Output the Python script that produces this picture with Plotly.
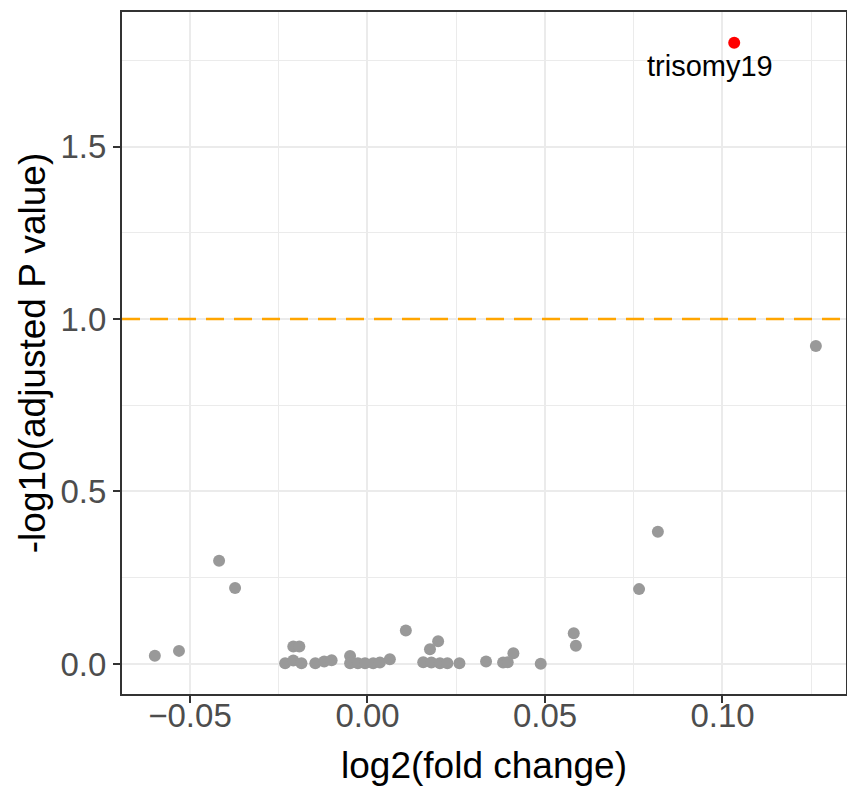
import plotly.graph_objects as go

# data
log2fc = [-0.0599, -0.0531, -0.0418, -0.0373,
          -0.0232, -0.0209, -0.0186, -0.0209, -0.0192,
          -0.0147, -0.0122, -0.0101, -0.0049, -0.0049, -0.0027, -0.0007,
          0.0016, 0.0035, 0.0063, 0.0108, 0.0157, 0.0176, 0.0180, 0.0199,
          0.0204, 0.0225, 0.0259, 0.0334, 0.0382, 0.0395, 0.0411, 0.0488,
          0.0581, 0.0587, 0.0765, 0.0818, 0.1263]
neglog10p = [0.024, 0.038, 0.299, 0.220,
             0.002, 0.010, 0.002, 0.051, 0.051,
             0.002, 0.007, 0.011, 0.023, 0.002, 0.002, 0.002,
             0.002, 0.004, 0.014, 0.097, 0.005, 0.043, 0.004, 0.066,
             0.002, 0.002, 0.002, 0.007, 0.004, 0.005, 0.031, 0.001,
             0.089, 0.053, 0.217, 0.383, 0.922]
sig_label = ["trisomy19"]
sig_x = [0.1033]
sig_y = [1.801]
threshold = 1.0

x_ticks = [-0.05, 0.00, 0.05, 0.10]
y_ticks = [0.0, 0.5, 1.0, 1.5]

FONT = "Liberation Sans, Arial, sans-serif"

fig = go.Figure()
fig.add_trace(go.Scatter(x=log2fc, y=neglog10p, mode="markers",
                         marker=dict(color="#999999", size=12, line=dict(width=0)),
                         showlegend=False, hoverinfo="skip"))
fig.add_trace(go.Scatter(x=sig_x, y=sig_y, mode="markers",
                         marker=dict(color="#FF0000", size=12, line=dict(width=0)),
                         showlegend=False, hoverinfo="skip"))

fig.add_hline(y=threshold, line=dict(color="#FFA500", width=2.5, dash="18px,10px"), layer="above")

for lab, xv, yv in zip(sig_label, sig_x, sig_y):
    fig.add_annotation(x=xv, y=yv, text=lab, showarrow=False,
                       xshift=-24, yshift=-23,
                       font=dict(family=FONT, size=29, color="black"))

axis_common = dict(showline=True, mirror=True, linecolor="#333333", linewidth=2,
                   ticks="outside", ticklen=7, tickwidth=1.5, tickcolor="#333333",
                   showgrid=True, gridcolor="#EBEBEB", gridwidth=1.6,
                   zeroline=False,
                   tickfont=dict(family=FONT, size=33, color="#4D4D4D"))

fig.update_xaxes(range=[-0.06915, 0.13479], tickvals=x_ticks, tickformat=".2f",
                 minor=dict(dtick=0.025, tick0=0, showgrid=True, gridcolor="#EBEBEB", gridwidth=0.8, ticks=""),
                 ticklabelstandoff=-16,
                 title=dict(text="log2(fold change)", font=dict(family=FONT, size=37, color="black"), standoff=20),
                 **axis_common)
fig.update_yaxes(range=[-0.0870, 1.8899], tickvals=y_ticks, tickformat=".1f",
                 minor=dict(dtick=0.25, tick0=0, showgrid=True, gridcolor="#EBEBEB", gridwidth=0.8, ticks=""),
                 title=dict(text="-log10(adjusted P value)", font=dict(family=FONT, size=37, color="black"), standoff=4),
                 **axis_common)

fig.update_layout(width=847, height=786, plot_bgcolor="white", paper_bgcolor="white",
                  margin=dict(l=122, r=1, t=12, b=92, autoexpand=False),
                  font=dict(family=FONT))

fig.write_html("out.html", config={"displayModeBar": False},
               post_script="document.body.style.margin='0px';document.body.style.overflow='hidden';")
